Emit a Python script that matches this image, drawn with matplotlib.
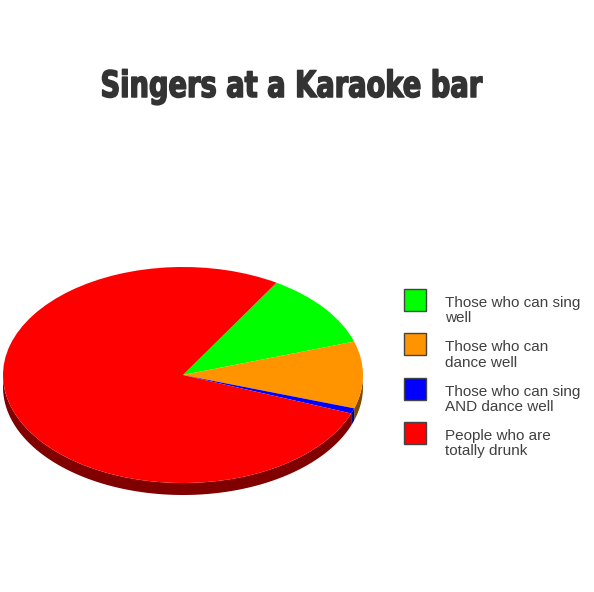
import numpy as np
import matplotlib
matplotlib.use("Agg")
import matplotlib.pyplot as plt
from matplotlib.patches import Polygon, Rectangle
from matplotlib.colors import to_rgb
from matplotlib.patheffects import AbstractPathEffect
from matplotlib.transforms import Affine2D

# ---- data ----
title = "Singers at a Karaoke bar"
labels = ["Those who can sing\nwell",
          "Those who can\ndance well",
          "Those who can sing\nAND dance well",
          "People who are\ntotally drunk"]
values = [11.3, 10.0, 0.8, 77.9]
colors = ["#00ff00", "#ff9400", "#0000ff", "#ff0000"]
start_angle = 58.7

W, H = 594, 592
fig = plt.figure(figsize=(W / 100, H / 100), dpi=100)
fig.patch.set_facecolor("white")

# pie axes: pixel-like coordinates, y squashed to make ellipse
sq = 0.6  # vertical squash
ax = fig.add_axes([0, 0, 1, 1])

cx, cy_px, r = 183, 375, 180
cy = (H - cy_px) / sq
depth = 12 / sq

wedges, _ = ax.pie(values, colors=colors, startangle=start_angle,
                   counterclock=False, center=(cx, cy), radius=r,
                   wedgeprops=dict(linewidth=0), frame=True)
ax.set_aspect("auto")
ax.set_xlim(0, W)
ax.set_ylim(0, H / sq)
ax.set_axis_off()
for w in wedges:
    w.set_zorder(3)


def darker(c, f=0.5):
    rr, gg, bb = to_rgb(c)
    return (rr * f, gg * f, bb * f)

# sides (front half only: angles 180..360)
for w, c in zip(wedges, colors):
    t1, t2 = w.theta1 % 360, w.theta2 % 360
    if t2 <= t1:
        t2 += 360
    for off in (0, 360, -360):
        a1 = max(t1 + off, 180)
        a2 = min(t2 + off, 360)
        if a2 > a1:
            t = np.radians(np.linspace(a1, a2, 200))
            xs = cx + r * np.cos(t)
            ys = cy + r * np.sin(t)
            pts = np.vstack([np.column_stack([xs, ys]),
                             np.column_stack([xs[::-1], ys[::-1] - depth])])
            ax.add_patch(Polygon(pts, closed=True, facecolor=darker(c, 0.5),
                                 edgecolor="none", zorder=2))


# condensed heavy title: horizontal squeeze + thin outline via a path effect
class HScaleBold(AbstractPathEffect):
    def __init__(self, sx, x0, lw):
        super().__init__()
        self.sx = sx
        self.x0 = x0
        self.lw = lw

    def draw_path(self, renderer, gc, tpath, affine, rgbFace=None):
        a = affine + Affine2D().translate(-self.x0, 0).scale(self.sx, 1).translate(self.x0, 0)
        gc0 = renderer.new_gc()
        gc0.copy_properties(gc)
        gc0.set_linewidth(self.lw)
        gc0.set_foreground(rgbFace)
        gc0.set_joinstyle("round")
        renderer.draw_path(gc0, tpath, a, rgbFace)
        gc0.restore()


title_cx = 291
ttl = fig.text(title_cx / W, 1 - 97 / H, title, ha="center", va="baseline",
               fontsize=26.2, fontweight="bold", family="DejaVu Sans",
               color="#333333")
renderer = fig.canvas.get_renderer()
tw = ttl.get_window_extent(renderer).width
ttl.set_path_effects([HScaleBold(381 / tw, title_cx, 1.1)])

# legend (manual)
box_x, box_top0, box_size, step = 404, 289, 22, 44.3
for i, (lab, c) in enumerate(zip(labels, colors)):
    top = box_top0 + i * step
    fig.patches.append(Rectangle((box_x / W, 1 - (top + box_size) / H),
                                 box_size / W, box_size / H,
                                 transform=fig.transFigure, facecolor=c,
                                 edgecolor="#444444", linewidth=1.0))
    fig.text(445 / W, 1 - (top + 7) / H, lab, ha="left", va="top",
             fontsize=11, family="Liberation Sans", color="#404040",
             linespacing=1.12)

fig.savefig("out.png", dpi=100, facecolor="white")
